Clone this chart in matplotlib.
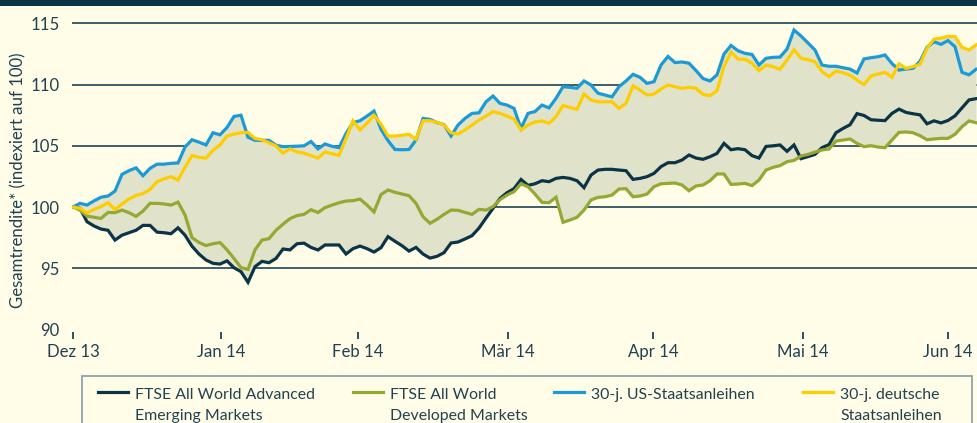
import numpy as np
import matplotlib
matplotlib.use("Agg")
import matplotlib.pyplot as plt
from matplotlib.lines import Line2D
from matplotlib.patches import Rectangle

plt.rcParams['font.family'] = ['Lato', 'DejaVu Sans']

# ---------------- data (index, 100 = start, trading days) ----------------
adv_emerging = [
    100.0, 99.9, 98.8, 98.45, 98.2, 98.1, 97.3, 97.7, 97.9, 98.1,
    98.5, 98.5, 97.95, 97.9, 97.82, 98.3, 97.7, 96.8, 96.16, 95.67,
    95.4, 95.34, 95.6, 95.04, 94.72, 93.85, 95.13, 95.56, 95.45, 95.8,
    96.57, 96.5, 97.0, 97.05, 96.7, 96.49, 96.9, 96.9, 96.9, 96.16,
    96.6, 96.81, 96.6, 96.32, 96.68, 97.58, 97.2, 96.84, 96.4, 96.7,
    96.16, 95.83, 95.97, 96.27, 97.06, 97.14, 97.39, 97.66, 98.28, 99.1,
    99.89, 100.7, 101.17, 101.5, 102.25, 101.77, 101.9, 102.15, 102.07, 102.34,
    102.42, 102.34, 102.15, 101.58, 102.61, 103.02, 103.08, 103.08, 103.02, 102.97,
    102.26, 102.34, 102.48, 102.75, 103.3, 103.62, 103.62, 103.84, 104.25, 104.0,
    103.9, 104.11, 104.38, 105.2, 104.68, 104.77, 104.68, 104.2, 104.0, 104.95,
    105.0, 105.07, 104.55, 105.07, 103.95, 104.12, 104.3, 104.85, 105.1, 106.07,
    106.42, 106.72, 107.63, 107.48, 107.13, 107.09, 107.06, 107.65, 108.0, 107.73,
    107.62, 107.53, 106.8, 107.04, 106.87, 107.07, 107.45, 108.1, 108.75, 108.85,
]
dev_markets = [
    100.0, 99.75, 99.26, 99.16, 99.07, 99.56, 99.54, 99.75, 99.54, 99.24,
    99.67, 100.3, 100.3, 100.25, 100.16, 100.4, 99.35, 97.5, 97.1, 96.85,
    97.0, 97.1, 96.5, 95.8, 95.05, 94.9, 96.5, 97.3, 97.42, 98.1,
    98.6, 99.05, 99.3, 99.4, 99.78, 99.55, 99.95, 100.16, 100.35, 100.49,
    100.52, 100.65, 100.16, 99.6, 101.02, 101.39, 101.2, 101.06, 100.93, 100.3,
    99.21, 98.67, 99.0, 99.4, 99.75, 99.73, 99.56, 99.4, 99.81, 99.75,
    100.03, 100.6, 100.98, 101.25, 101.9, 101.66, 101.06, 100.38, 100.35, 100.8,
    98.75, 98.94, 99.16, 99.75, 100.57, 100.79, 100.84, 100.98, 101.47, 101.5,
    100.84, 100.9, 101.06, 101.66, 101.9, 101.93, 101.96, 101.8, 101.33, 101.72,
    101.8, 102.15, 102.7, 102.7, 101.85, 101.88, 101.93, 101.75, 102.2, 103.02,
    103.24, 103.38, 103.7, 103.81, 104.17, 104.3, 104.49, 104.66, 104.74, 105.39,
    105.47, 105.56, 105.2, 104.93, 105.01, 104.9, 104.85, 105.47, 106.1, 106.13,
    106.07, 105.83, 105.5, 105.56, 105.61, 105.61, 105.94, 106.56, 107.03, 106.89,
]
us_bonds = [
    100.0, 100.3, 100.16, 100.5, 100.8, 100.9, 101.3, 102.67, 102.97, 103.2,
    102.56, 103.16, 103.5, 103.5, 103.57, 103.6, 104.9, 105.5, 105.3, 105.07,
    106.07, 105.9, 106.5, 107.4, 107.5, 105.7, 105.45, 105.45, 105.45, 105.05,
    104.93, 104.95, 104.97, 105.0, 105.35, 104.75, 105.15, 104.96, 104.85, 106.0,
    106.9, 107.05, 107.43, 107.84, 106.35, 105.42, 104.7, 104.68, 104.7, 105.47,
    107.24, 107.16, 106.9, 106.73, 105.8, 106.7, 107.24, 107.65, 107.7, 108.6,
    109.07, 108.47, 108.33, 108.06, 106.43, 107.65, 107.8, 108.33, 108.1, 108.88,
    109.83, 109.78, 109.7, 110.3, 109.97, 109.3, 109.15, 109.0, 109.83, 110.3,
    110.84, 110.6, 110.1, 110.24, 111.6, 112.3, 111.8, 111.85, 111.75, 111.15,
    110.5, 110.3, 110.8, 112.5, 113.2, 112.77, 112.55, 112.47, 111.6, 112.15,
    112.23, 112.25, 112.9, 114.46, 113.97, 113.4, 112.83, 111.6, 111.5, 111.5,
    111.38, 111.27, 110.95, 112.1, 112.2, 112.28, 112.42, 111.72, 111.19, 111.27,
    111.33, 111.9, 113.05, 113.5, 113.29, 113.6, 113.1, 111.0, 110.8, 111.25,
]
de_bonds = [
    100.0, 99.9, 99.5, 99.8, 100.03, 100.35, 99.8, 100.25, 100.65, 100.95,
    101.1, 101.44, 102.07, 102.3, 102.48, 102.2, 103.24, 104.2, 104.06, 104.0,
    104.63, 105.07, 105.8, 105.96, 106.07, 106.1, 105.6, 105.5, 105.25, 105.0,
    104.4, 104.75, 104.5, 104.4, 104.2, 104.0, 104.5, 104.36, 104.22, 105.6,
    107.05, 106.3, 106.84, 107.5, 106.78, 105.8, 105.8, 105.86, 105.94, 105.53,
    107.05, 107.05, 106.92, 106.7, 106.07, 105.96, 106.3, 106.7, 107.1, 107.43,
    107.79, 107.65, 107.43, 107.19, 106.3, 106.7, 106.95, 107.03, 106.84, 107.38,
    108.3, 108.14, 107.98, 109.23, 108.74, 108.6, 108.6, 108.6, 108.06, 108.47,
    109.9, 109.56, 109.15, 109.23, 109.64, 109.97, 109.83, 109.7, 109.78, 109.7,
    109.2, 109.1, 109.5, 111.5, 112.65, 112.09, 112.06, 111.75, 111.15, 111.6,
    111.47, 111.25, 112.0, 112.85, 112.15, 112.04, 111.87, 111.06, 110.65, 111.11,
    110.97, 110.78, 110.38, 110.0, 110.7, 110.87, 111.0, 110.6, 111.7, 111.33,
    111.47, 111.66, 112.96, 113.72, 113.8, 113.94, 113.92, 113.05, 112.83, 113.24,
]

series_labels = [
    "FTSE All World Advanced\nEmerging Markets",
    "FTSE All World\nDeveloped Markets",
    "30-j. US-Staatsanleihen",
    "30-j. deutsche\nStaatsanleihen",
]
month_labels = ["Dez 13", "Jan 14", "Feb 14", "Mär 14", "Apr 14", "Mai 14", "Jun 14"]
month_pos = [0, 21.1, 40.7, 62.1, 82.9, 104.3, 125.0]   # trading-day index of month start
y_ticks = [90, 95, 100, 105, 110, 115]
y_label = "Gesamtrendite* (indexiert auf 100)"

# ---------------- style ----------------
BG = "#fffde8"
FILL = "#e1e2ca"
DARK = "#0b3446"
TXT = "#22414f"
C_NAVY = "#0b3447"
C_GREEN = "#94a832"
C_BLUE = "#1b9ad6"
C_YELLOW = "#fecd00"
colors = [C_NAVY, C_GREEN, C_BLUE, C_YELLOW]
FS_TICK = 12.1
FS_LEG = 11.4
FS_YLAB = 12.1

W, H = 978, 423
fig = plt.figure(figsize=(W / 100, H / 100), dpi=100)
fig.patch.set_facecolor(BG)
fig.add_artist(Rectangle((0, 1 - 6 / H), 1, 6 / H, transform=fig.transFigure,
                         facecolor=DARK, edgecolor="none", zorder=10))

ax = fig.add_axes([72 / W, 1 - 332 / H, (W - 72) / W, (332 - 8) / H])
ax.set_facecolor(BG)
for s in ax.spines.values():
    s.set_visible(False)

data = [np.array(adv_emerging), np.array(dev_markets), np.array(us_bonds), np.array(de_bonds)]
x = np.arange(len(adv_emerging))

ax.set_xlim(-1 / 7, (W - 73) / 7)
ax.set_ylim(89.79, 116.26)

for yv in y_ticks[1:]:
    ax.axhline(yv, color=DARK, lw=1.1, zorder=1)

stack = np.vstack(data)
ax.fill_between(x, stack.min(axis=0), stack.max(axis=0), color=FILL, lw=0, zorder=2)

for d, c in zip(data, colors):
    ax.plot(x, d, color=c, lw=2.3, zorder=3, solid_joinstyle="miter")

ax.set_yticks(y_ticks)
ax.set_yticklabels([str(v) for v in y_ticks])
ax.set_xticks(month_pos)
ax.set_xticklabels(month_labels)
ax.tick_params(axis="y", length=0, pad=9, labelsize=FS_TICK, labelcolor=TXT)
ax.tick_params(axis="x", length=5.2, width=1.2, color=DARK, pad=3.2, labelsize=FS_TICK,
               labelcolor=TXT, direction="out")

fig.text(18 / W, 1 - 180 / H, y_label, rotation=90, ha="center", va="center",
         fontsize=FS_YLAB, color=TXT)

# ---------------- legend (drawn manually to match layout) ----------------
fig.add_artist(Rectangle((82 / W, -0.05), (972.5 - 82) / W, 0.05 + (423 - 376.5) / H,
                         transform=fig.transFigure, facecolor="none",
                         edgecolor="#8ea3ad", lw=1.3, zorder=5))
handle_x = [98, 353, 554, 803]
for hx, c, lab in zip(handle_x, colors, series_labels):
    fig.add_artist(Line2D([hx / W, (hx + 30) / W], [1 - 392 / H, 1 - 392 / H],
                          transform=fig.transFigure, color=c, lw=2.3))
    for k, line in enumerate(lab.split("\n")):
        fig.text((hx + 37) / W, 1 - (398.5 + 21 * k) / H, line, ha="left",
                 va="baseline", fontsize=FS_LEG, color=TXT)

fig.savefig("out.png", dpi=100, facecolor=BG)
